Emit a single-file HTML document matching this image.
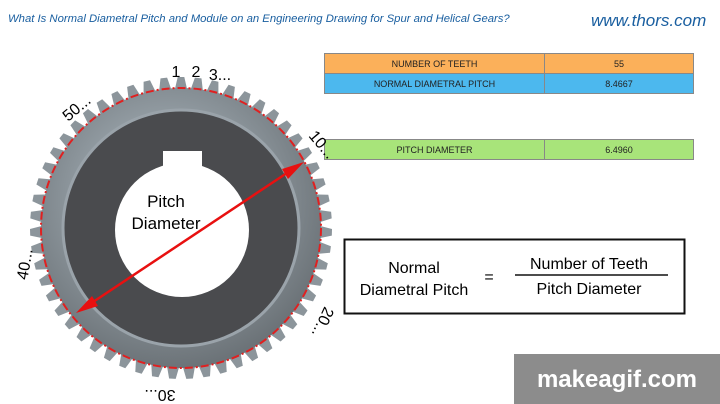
<!DOCTYPE html>
<html><head><meta charset="utf-8"><style>
body{margin:0;width:720px;height:404px;overflow:hidden;background:#fff;font-family:"Liberation Sans",sans-serif;position:relative}
.t{position:absolute;font-size:11px;color:#333}
table{position:absolute;border-collapse:collapse;font-size:9px;color:#222}
td{border:1px solid #888;text-align:center;height:19px;padding:0}
</style></head><body>
<div class="t" style="left:8px;top:13px;font-style:italic;color:#1a5fa0;font-size:11.3px">What Is Normal Diametral Pitch and Module on an Engineering Drawing for Spur and Helical Gears?</div>
<div class="t" style="left:591px;top:11px;font-style:italic;color:#1a5fa0;font-size:17px">www.thors.com</div>
<table style="left:324px;top:53px;width:370px">
<tr style="background:#fbb05a"><td style="width:219px">NUMBER OF TEETH</td><td>55</td></tr>
<tr style="background:#4cb8ee"><td>NORMAL DIAMETRAL PITCH</td><td>8.4667</td></tr></table>
<table style="left:324px;top:139px;width:370px">
<tr style="background:#a8e47a"><td style="width:219px">PITCH DIAMETER</td><td>6.4960</td></tr></table>
<svg width="720" height="404" style="position:absolute;left:0;top:0">
<defs><radialGradient id="g" cx="0.45" cy="0.4" r="0.6"><stop offset="0" stop-color="#b8c4cc"/><stop offset="1" stop-color="#6c7378"/></radialGradient></defs>
<g id="teeth" fill="#8c959b"></g>
<circle cx="181" cy="228" r="140" fill="url(#g)"/>
<circle cx="181" cy="228" r="118" fill="#4a4b4e" stroke="#9aa3aa" stroke-width="3"/>
<circle cx="182" cy="230" r="67" fill="#fff"/>
<rect x="163" y="151" width="39" height="20" fill="#fff"/>
<circle cx="181" cy="228" r="140" fill="none" stroke="#e02020" stroke-width="2" stroke-dasharray="8 3 2 3"/>
<line x1="84" y1="308" x2="296" y2="167" stroke="#e81010" stroke-width="2.5"/>
<polygon points="76,313 92,296 98,306" fill="#e81010"/>
<polygon points="304,162 288,179 282,169" fill="#e81010"/>
<text x="176" y="77" font-size="16" text-anchor="middle">1</text>
<text x="196" y="77" font-size="16" text-anchor="middle">2</text>
<text x="220" y="80" font-size="16" text-anchor="middle">3...</text>
<text x="80" y="112" font-size="16" transform="rotate(-40 80 112)" text-anchor="middle">50...</text>
<text x="318" y="148" font-size="16" transform="rotate(50 318 148)" text-anchor="middle">10...</text>
<text x="30" y="265" font-size="16" transform="rotate(-80 30 265)" text-anchor="middle">40...</text>
<text x="318" y="320" font-size="16" transform="rotate(115 318 320)" text-anchor="middle">20...</text>
<text x="160" y="390" font-size="16" transform="rotate(180 160 390)" text-anchor="middle">30...</text>
<text x="166" y="207" font-size="17" text-anchor="middle">Pitch</text>
<text x="166" y="229" font-size="17" text-anchor="middle">Diameter</text>
<rect x="344.5" y="239.5" width="340" height="74" fill="none" stroke="#111" stroke-width="2"/>
<text x="414" y="273" font-size="16" text-anchor="middle">Normal</text>
<text x="414" y="295" font-size="16" text-anchor="middle">Diametral Pitch</text>
<text x="489" y="282" font-size="16" text-anchor="middle">=</text>
<text x="589" y="269" font-size="16" text-anchor="middle">Number of Teeth</text>
<line x1="515" y1="275" x2="668" y2="275" stroke="#111" stroke-width="1.5"/>
<text x="589" y="294" font-size="16" text-anchor="middle">Pitch Diameter</text>
<rect x="514" y="354" width="206" height="50" fill="#8c8c8c"/>
<text x="617" y="387" font-size="24" font-weight="bold" fill="#fff" text-anchor="middle">makeagif.com</text>
</svg>
<script>
var g=document.getElementById('teeth'),s='';
for(var i=0;i<55;i++){var a=i*2*Math.PI/55-Math.PI/2,d=0.022;
function p(r,o){return (181+r*Math.cos(a+o)).toFixed(1)+','+(228+r*Math.sin(a+o)).toFixed(1)}
s+='<polygon points="'+p(136,-0.05)+' '+p(151,-d)+' '+p(151,d)+' '+p(136,0.05)+'"/>';}
g.innerHTML=s;
</script>
</body></html>
